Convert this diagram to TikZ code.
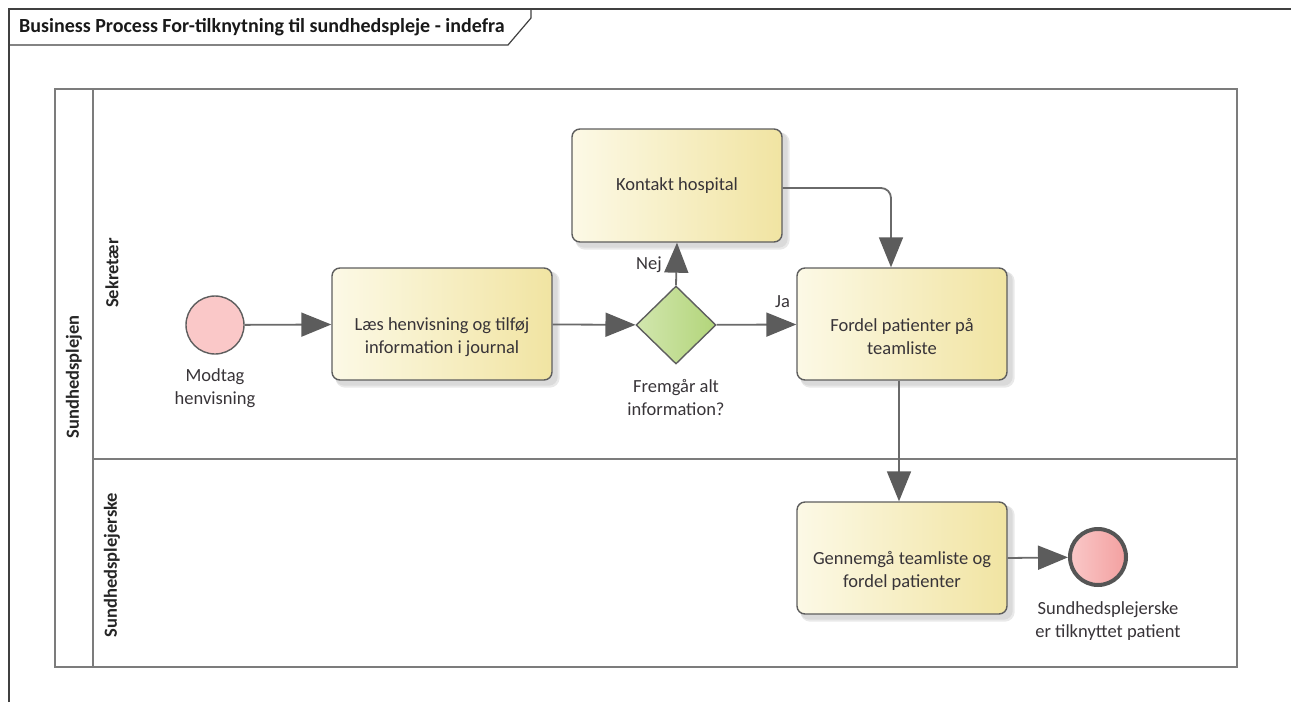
\documentclass[tikz,border=0pt]{standalone}
\usepackage{fontspec}
\setmainfont{Carlito}
\usetikzlibrary{arrows.meta,shapes.geometric}
\pgfdeclarelayer{background}
\pgfsetlayers{background,main}
\definecolor{taskborder}{HTML}{5E5E5E}
\definecolor{tasklight}{HTML}{FCF9E6}
\definecolor{taskdark}{HTML}{F1E4A2}
\definecolor{gwlight}{HTML}{D2E6AE}
\definecolor{gwdark}{HTML}{B2D57A}
\definecolor{evlight}{HTML}{FAC8C8}
\definecolor{evdark}{HTML}{F3A0A0}
\definecolor{txt}{HTML}{383438}
\definecolor{flow}{HTML}{6A6A6A}
\definecolor{tip}{HTML}{5C5C5C}
\definecolor{pool}{HTML}{7C7C7C}
\definecolor{shadowc}{HTML}{DADADA}
\begin{document}
\begin{tikzpicture}[x=1pt,y=-1pt,
  every node/.style={text=txt},
  task/.style={draw=taskborder, line width=1.4pt, rounded corners=8pt,
    left color=tasklight, right color=taskdark,
    minimum width=210pt, minimum height=112pt, align=center, inner sep=0pt,
    font=\fontsize{18.5}{23}\selectfont},
  shadowbox/.style={fill=shadowc, rounded corners=9pt},
  gateway/.style={draw=taskborder, line width=1.4pt, shape=diamond,
    left color=gwlight, right color=gwdark, minimum width=80pt, minimum height=78pt, inner sep=0pt},
  startev/.style={draw=taskborder, line width=1.4pt, circle, fill=evlight, minimum size=58pt, inner sep=0pt},
  endev/.style={draw=taskborder!90!black, line width=4pt, circle, left color=evlight, right color=evdark, minimum size=56pt, inner sep=0pt},
  evlabel/.style={align=center, font=\fontsize{18.5}{23}\selectfont},
  flowlabel/.style={font=\fontsize{18.5}{22}\selectfont, inner sep=0pt},
  flowline/.style={draw=flow, line width=1.8pt, -{Triangle[length=30pt,width=24pt,fill=tip,color=tip]}},
  poolline/.style={draw=pool, line width=2.6pt},
  framel/.style={draw=black!75, line width=1.2pt},
  lanelabel/.style={rotate=90, font=\bfseries\fontsize{18.5}{22}\selectfont, text=black!85}
  ]
\useasboundingbox (0,0) rectangle (1291,702);
% frame
\draw[framel] (9,702) -- (9,9) -- (1291,9);
\draw[framel] (9,45) -- (508,45) -- (531,18) -- (531,9);
\node[anchor=west, font=\bfseries\fontsize{20}{24}\selectfont, text=black!90, inner sep=0pt] (title) at (19,27) {Business Process For-tilknytning til sundhedspleje - indefra};
% pool and lanes
\draw[poolline] (55,89) rectangle (1237,667);
\draw[poolline] (93,89) -- (93,667);
\draw[poolline] (93,459) -- (1237,459);
\node[lanelabel] (poolname) at (74,377) {Sundhedsplejen};
\node[lanelabel] (lane1) at (112,273) {Sekretær};
\node[lanelabel] (lane2) at (112,565) {Sundhedsplejerske};
% nodes
\node[startev] (start) at (215,325) {};
\node[evlabel] (startlbl) at (215,388) {Modtag\\henvisning};
\node[task, minimum width=220pt] (laes) at (442,324) {\strut\\Læs henvisning og tilføj\\ information i journal};
\node[gateway] (gw) at (676,325) {};
\node[evlabel] (gwlbl) at (676,398) {Fremgår alt\\information?};
\node[task, minimum height=113pt] (kontakt) at (677,185.5) {Kontakt hospital};
\node[task] (fordel) at (902,324) {\strut\\Fordel patienter på\\teamliste};
\node[task] (gennem) at (902,558) {\strut\\Gennemgå teamliste og\\fordel patienter};
\node[endev] (endev) at (1098,557) {};
\node[evlabel] (endlbl) at (1108,621) {Sundhedsplejerske\\er tilknyttet patient};
% shadows
\begin{pgfonlayer}{background}
\foreach \n in {laes,kontakt,fordel,gennem}{
  \fill[shadowc!60] ([shift={(4,4)}]\n.north west) [rounded corners=10pt] rectangle ([shift={(7,7)}]\n.south east);
  \fill[shadowc] ([shift={(4,4)}]\n.north west) [rounded corners=9pt] rectangle ([shift={(5,5)}]\n.south east);
}
\end{pgfonlayer}
% connectors
\draw[flowline] (start) -- (laes);
\draw[flowline] (laes) -- (gw);
\draw[flowline] (gw) -- (fordel);
\node[flowlabel, anchor=west] (ja) at (775,302) {Ja};
\draw[flowline] (gw.north) -- (kontakt.south);
\node[flowlabel, anchor=east] (nej) at (662,265) {Nej};
\coordinate (fin) at ([xshift=-11pt]fordel.north);
\draw[flowline, rounded corners=10pt] ([yshift=-2.5pt]kontakt.east) -- ([yshift=-2.5pt]kontakt.east -| fin) -- (fin);
\coordinate (fout) at ([xshift=-3pt]fordel.south);
\draw[flowline] (fout) -- (fout |- gennem.north);
\draw[flowline] (gennem.east) -- (endev);
\end{tikzpicture}
\end{document}
